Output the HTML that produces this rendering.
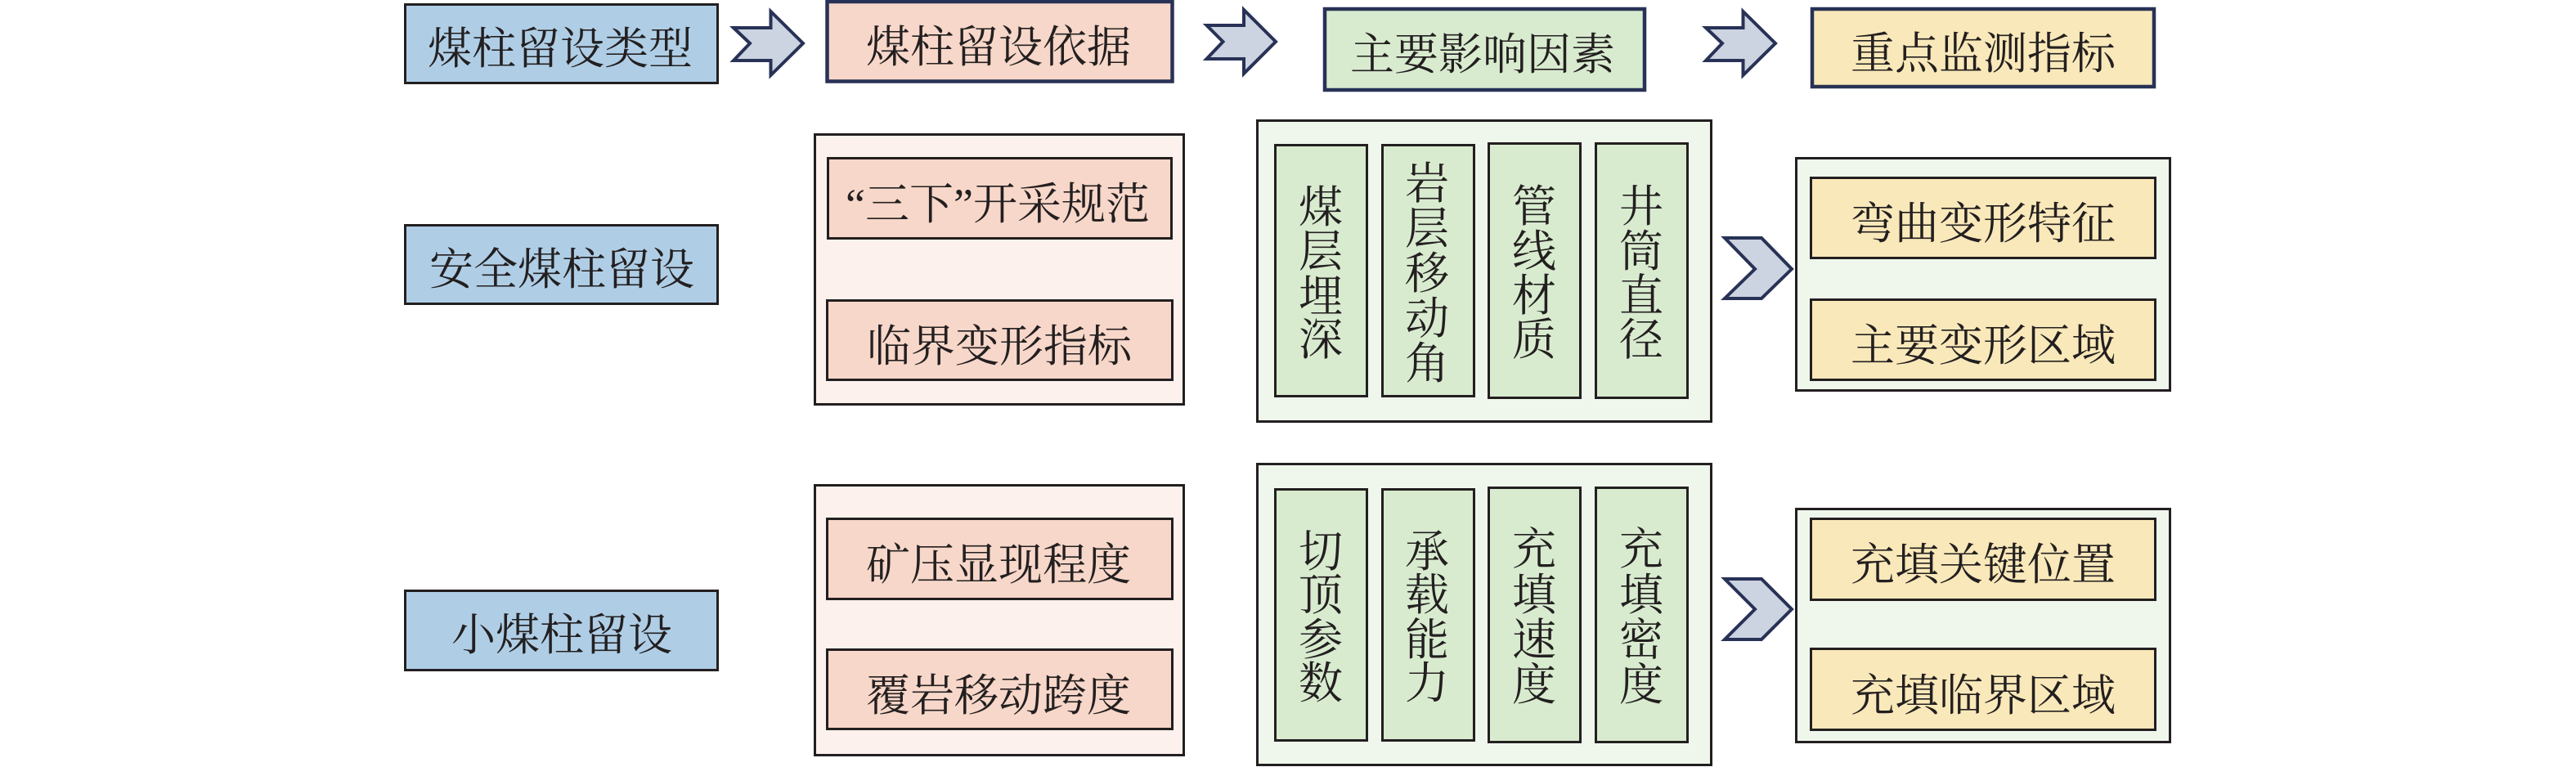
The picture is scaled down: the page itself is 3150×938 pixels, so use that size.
<!DOCTYPE html>
<html lang="zh">
<head>
<meta charset="utf-8">
<style>
html,body{margin:0;padding:0;background:#fff;width:3150px;height:938px;overflow:hidden}
svg{position:absolute;left:0;top:0;display:block}
text{font-family:"Liberation Serif","Noto Serif CJK SC",serif;font-size:54px;fill:#231f20;text-anchor:middle;letter-spacing:0}
.k{stroke:#231f20;stroke-width:3}
.n{stroke:#283256;stroke-width:4.5}
.b{fill:#afcee6}.p{fill:#f7d7c9}.g{fill:#d8ebcf}.y{fill:#f9e8b9}
.pp{fill:#fcf1ec}.pg{fill:#eff7ec}
.a{fill:#ccd3e1;stroke:#283256;stroke-width:4;stroke-linejoin:miter}
</style>
</head>
<body>
<svg width="3150" height="938" viewBox="0 0 3150 938" xmlns="http://www.w3.org/2000/svg">
<rect x="0" y="0" width="3150" height="938" fill="#fff"/>

<!-- header row -->
<rect class="b k" x="495.5" y="5.5" width="382" height="96"/>
<rect class="p n" x="1011.5" y="2" width="422" height="97.5"/>
<rect class="g n" x="1620" y="11" width="391" height="99"/>
<rect class="y n" x="2216" y="11" width="418" height="95"/>

<polygon class="a" points="897,34 917,53 897,74 942.5,74 942.5,92 982,53 942.5,14 942.5,34"/>
<polygon class="a" points="1475.5,31 1495.5,51 1475.5,72 1521,72 1521,90 1560,51 1521,12 1521,31"/>
<polygon class="a" points="2086,34 2106,53 2086,74 2131.5,74 2131.5,92 2171,53 2131.5,14 2131.5,34"/>

<!-- first row -->
<rect class="b k" x="495.5" y="275.5" width="382" height="96"/>
<rect class="pp k" x="996.5" y="164.5" width="451" height="330"/>
<rect class="p k" x="1012.5" y="193.5" width="420" height="98"/>
<rect class="p k" x="1011.5" y="367.5" width="422" height="97"/>
<rect class="pg k" x="1537.5" y="147.5" width="555" height="368"/>
<rect class="g k" x="1559.5" y="177.5" width="112" height="307"/>
<rect class="g k" x="1690.5" y="177.5" width="112" height="307"/>
<rect class="g k" x="1820.5" y="175.5" width="112" height="311"/>
<rect class="g k" x="1951.5" y="175.5" width="112" height="311"/>
<polygon class="a" points="2109,291 2154,291 2191,329 2154,365 2109,365 2146,329"/>
<rect class="pg k" x="2196.5" y="193.5" width="457" height="284"/>
<rect class="y k" x="2214.5" y="217.5" width="421" height="98"/>
<rect class="y k" x="2214.5" y="366.5" width="421" height="98"/>

<!-- second row -->
<rect class="b k" x="495.5" y="722.5" width="382" height="97"/>
<rect class="pp k" x="996.5" y="593.5" width="451" height="330"/>
<rect class="p k" x="1011.5" y="634.5" width="422" height="98"/>
<rect class="p k" x="1011.5" y="794.5" width="422" height="97"/>
<rect class="pg k" x="1537.5" y="567.5" width="555" height="368"/>
<rect class="g k" x="1559.5" y="598.5" width="112" height="307"/>
<rect class="g k" x="1690.5" y="598.5" width="112" height="307"/>
<rect class="g k" x="1820.5" y="596.5" width="112" height="311"/>
<rect class="g k" x="1951.5" y="596.5" width="112" height="311"/>
<polygon class="a" points="2109,708 2154,708 2191,745 2154,782 2109,782 2146,745"/>
<rect class="pg k" x="2196.5" y="622.5" width="457" height="285"/>
<rect class="y k" x="2214.5" y="634.5" width="421" height="99"/>
<rect class="y k" x="2214.5" y="793.5" width="421" height="99"/>

<!-- horizontal labels -->
<text x="685" y="78">煤柱留设类型</text>
<text x="1221" y="76">煤柱留设依据</text>
<text x="1813" y="85">主要影响因素</text>
<text x="2425" y="84">重点监测指标</text>
<text x="687" y="348">安全煤柱留设</text>
<text x="1220" y="268">“三下”开采规范</text>
<text x="1222" y="442">临界变形指标</text>
<text x="687" y="795">小煤柱留设</text>
<text x="1221" y="709">矿压显现程度</text>
<text x="1221" y="869">覆岩移动跨度</text>
<text x="2425" y="292">弯曲变形特征</text>
<text x="2425" y="441">主要变形区域</text>
<text x="2425" y="709">充填关键位置</text>
<text x="2425" y="869">充填临界区域</text>

<!-- vertical labels -->
<text><tspan x="1615" y="272">煤</tspan><tspan x="1615" y="326">层</tspan><tspan x="1615" y="381">埋</tspan><tspan x="1615" y="434">深</tspan></text>
<text><tspan x="1745" y="243">岩</tspan><tspan x="1745" y="298">层</tspan><tspan x="1745" y="353">移</tspan><tspan x="1745" y="408">动</tspan><tspan x="1745" y="463">角</tspan></text>
<text><tspan x="1876" y="271">管</tspan><tspan x="1876" y="326">线</tspan><tspan x="1876" y="380">材</tspan><tspan x="1876" y="434">质</tspan></text>
<text><tspan x="2007" y="271">井</tspan><tspan x="2007" y="326">筒</tspan><tspan x="2007" y="380">直</tspan><tspan x="2007" y="434">径</tspan></text>
<text><tspan x="1615" y="693">切</tspan><tspan x="1615" y="746">顶</tspan><tspan x="1615" y="801">参</tspan><tspan x="1615" y="854">数</tspan></text>
<text><tspan x="1745" y="693">承</tspan><tspan x="1745" y="746">载</tspan><tspan x="1745" y="801">能</tspan><tspan x="1745" y="854">力</tspan></text>
<text><tspan x="1876" y="690">充</tspan><tspan x="1876" y="746">填</tspan><tspan x="1876" y="801">速</tspan><tspan x="1876" y="856">度</tspan></text>
<text><tspan x="2007" y="690">充</tspan><tspan x="2007" y="746">填</tspan><tspan x="2007" y="801">密</tspan><tspan x="2007" y="856">度</tspan></text>
</svg>
</body>
</html>
